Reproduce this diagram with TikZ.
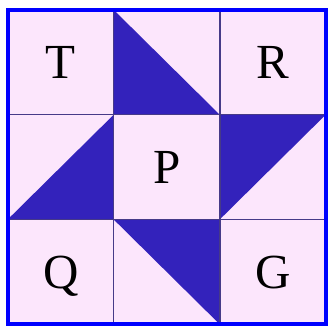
\documentclass[tikz,border=0pt]{standalone}
\usepackage{fontspec}
\setmainfont{Liberation Serif}
\usepackage{xcolor}
\definecolor{quiltpink}{HTML}{FCE6FC}
\definecolor{quiltblue}{HTML}{3322BB}
\definecolor{quiltline}{HTML}{463A88}
\begin{document}
\begin{tikzpicture}[
			x=106pt, y=104.8pt,
			every node/.style={
				font=\fontsize{49}{49}\selectfont,
				inner sep=0pt,
				text depth=0pt
			},
			patch/.style={fill=quiltblue},
			seam/.style={draw=quiltline, line width=1.6pt}
			]
			\useasboundingbox (-0.0726,-0.0162) rectangle (3.0217,3.0945);
			
			% Background of the block
			\fill[quiltpink] (0,0) rectangle (3,3);
			
			% Blue half-square triangles
			\fill[patch] (1,3) -- (1,2) -- (2,2) -- cycle;
			\fill[patch] (1,2) -- (1,1) -- (0,1) -- cycle;
			\fill[patch] (2,2) -- (3,2) -- (2,1) -- cycle;
			\fill[patch] (1,1) -- (2,1) -- (2,0) -- cycle;
			
			% Seams and outer border
			\foreach \k in {1,2} {
				\draw[seam] (\k,0) -- (\k,3);
				\draw[seam] (0,\k) -- (3,\k);
			}
			\draw[line width=3.8pt, draw=blue] (0,0) rectangle (3,3);
			
			% Letters in the plain squares
			\node (t) at (0.5,2.5) {T};
			\node (r) at (2.5,2.5) {R};
			\node (p) at (1.5,1.5) {P};
			\node (q) at (0.5,0.5) {Q};
			\node (g) at (2.5,0.5) {G};
			
		\end{tikzpicture}
\end{document}
